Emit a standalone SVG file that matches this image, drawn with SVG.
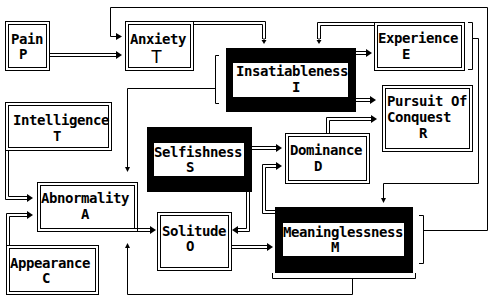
<svg xmlns="http://www.w3.org/2000/svg" width="493" height="304" viewBox="0 0 493 304">
<style>
.b{fill:none;stroke:#000;stroke-width:1}
.k{fill:#000}
.w{fill:#fff}
.l{fill:none;stroke:#000;stroke-width:1}
.t{font-family:"DejaVu Sans Mono","Liberation Mono",monospace;font-weight:bold;font-size:14px;letter-spacing:-0.43px;fill:#000}
.thin{font-family:"Liberation Sans",Arial,sans-serif;font-weight:normal;font-size:18px;fill:#000}
.a{fill:#000}
</style>
<rect width="493" height="304" fill="#fff"/>
<g id="connectors">
<!-- Pain -> Anxiety -->
<path class="l" d="M50,53.5H117M50,56.5H117"/>
<polygon class="a" points="116,51 122,55 116,59"/>
<!-- Meaninglessness loop -> Anxiety -->
<path class="l" d="M419,215.5H423.5V263.5H419M423.5,230.5H487.5V7.5H110.5V36.5H117"/>
<polygon class="a" points="116,33 122,36.5 116,40"/>
<!-- Anxiety -> Insatiableness -->
<path class="l" d="M193,21.5H265.5V39M193,24.5H262.5V39M264,38V41"/>
<polygon class="a" points="261.5,40 266.5,40 264,44"/>
<!-- Experience -> Insatiableness -->
<path class="l" d="M374,22.5H317.5V39M374,25.5H320.5V39M319,38V41"/>
<polygon class="a" points="316.5,40 321.5,40 319,44"/>
<!-- Insatiableness -> Experience -->
<path class="l" d="M355,51.5H367M355,54.5H367"/>
<polygon class="a" points="366,49 372,53 366,57"/>
<!-- Insatiableness -> Pursuit -->
<path class="l" d="M355,98.5H371M355,101.5H371"/>
<polygon class="a" points="370,96 376,100 370,104"/>
<!-- Insatiableness bracket -> Abnormality -->
<path class="l" d="M219,55.5H215.5V103.5H219M215.5,88.5H127.5V168"/>
<polygon class="a" points="125,167 130,167 127.5,172"/>
<!-- Dominance -> Pursuit -->
<path class="l" d="M326.5,133V117.5H372M329.5,133V120.5H372"/>
<polygon class="a" points="371,115 377,119 371,123"/>
<!-- Selfishness -> Dominance -->
<path class="l" d="M251,146.5H277M251,149.5H277"/>
<polygon class="a" points="276,144 282,148 276,152"/>
<!-- Meaninglessness -> Dominance -->
<path class="l" d="M275,213.5H262.5V164.5H277M275,210.5H265.5V167.5H277"/>
<polygon class="a" points="276,162 282,166 276,170"/>
<!-- Selfishness -> Solitude -->
<path class="l" d="M246.5,191V228.5H237M249.5,191V231.5H237"/>
<polygon class="a" points="238,226 232,230 238,234"/>
<!-- Solitude -> Meaninglessness -->
<path class="l" d="M231,245.5H268M231,248.5H268"/>
<polygon class="a" points="267,243 273,247 267,251"/>
<!-- Experience bracket -> Meaninglessness -->
<path class="l" d="M468,22.5H472.5V69.5H468M472.5,38.5H478.5V183.5H383.5V199"/>
<polygon class="a" points="381,198 386,198 383.5,203"/>
<!-- Meaninglessness bottom bracket -> Abnormality -->
<path class="l" d="M272.5,273V278.5H415.5V273M352.5,278.5V294.5H127.5V247"/>
<polygon class="a" points="125,248 130,248 127.5,243"/>
<!-- Intelligence -> Abnormality -->
<path class="l" d="M5.5,150V199.5H28M8.5,150V196.5H28"/>
<polygon class="a" points="27,194 33,198 27,202"/>
<!-- Appearance -> Abnormality -->
<path class="l" d="M6.5,245V213.5H28M9.5,245V216.5H28"/>
<polygon class="a" points="27,211 33,215 27,219"/>
<!-- Abnormality -> Solitude -->
<path class="l" d="M134,228.5H151M137,231.5H151"/>
<polygon class="a" points="150,226 156,230 150,234"/>
</g>
<g id="pain">
<rect class="b" x="5.5" y="21.5" width="44" height="49"/>
<rect class="b" x="8.5" y="24.5" width="38" height="43"/>
<text class="t" x="11" y="44">Pain</text>
<text class="t" x="19" y="59">P</text>
</g>
<g id="anxiety">
<rect class="b" x="125.5" y="21.5" width="68" height="49"/>
<rect class="b" x="128.5" y="24.5" width="62" height="43"/>
<text class="t" x="130" y="44">Anxiety</text>
<text class="thin" x="151" y="63">T</text>
</g>
<g id="insatiableness">
<rect class="k" x="226" y="48" width="130" height="64"/>
<rect class="w" x="233" y="63" width="115" height="34"/>
<text class="t" x="236" y="76">Insatiableness</text>
<text class="t" x="292" y="92">I</text>
</g>
<g id="experience">
<rect class="b" x="374.5" y="22.5" width="90" height="48"/>
<rect class="b" x="377.5" y="25.5" width="84" height="42"/>
<text class="t" x="378" y="43">Experience</text>
<text class="t" x="402" y="59">E</text>
</g>
<g id="pursuit">
<rect class="b" x="382.5" y="85.5" width="90" height="66"/>
<rect class="b" x="385.5" y="88.5" width="84" height="60"/>
<text class="t" x="387" y="106">Pursuit Of</text>
<text class="t" x="387" y="122">Conquest</text>
<text class="t" x="419" y="138">R</text>
</g>
<g id="intelligence">
<rect class="b" x="5.5" y="102.5" width="106" height="48"/>
<rect class="b" x="8.5" y="105.5" width="100" height="42"/>
<text class="t" x="13" y="125">Intelligence</text>
<text class="t" x="53" y="141">T</text>
</g>
<g id="selfishness">
<rect class="k" x="147" y="127" width="105" height="65"/>
<rect class="w" x="154" y="143" width="90" height="33"/>
<text class="t" x="154" y="157">Selfishness</text>
<text class="t" x="186" y="172">S</text>
</g>
<g id="dominance">
<rect class="b" x="285.5" y="133.5" width="84" height="50"/>
<rect class="b" x="288.5" y="136.5" width="78" height="44"/>
<text class="t" x="290" y="155">Dominance</text>
<text class="t" x="314" y="171">D</text>
</g>
<g id="abnormality">
<rect class="b" x="37.5" y="182.5" width="100" height="49"/>
<rect class="b" x="40.5" y="185.5" width="94" height="43"/>
<text class="t" x="41" y="203">Abnormality</text>
<text class="t" x="81" y="219">A</text>
</g>
<g id="solitude">
<rect class="b" x="157.5" y="212.5" width="74" height="58"/>
<rect class="b" x="160.5" y="215.5" width="68" height="52"/>
<text class="t" x="162" y="236">Solitude</text>
<text class="t" x="186" y="251">O</text>
</g>
<g id="appearance">
<rect class="b" x="6.5" y="245.5" width="92" height="49"/>
<rect class="b" x="9.5" y="248.5" width="86" height="43"/>
<text class="t" x="10" y="268">Appearance</text>
<text class="t" x="42" y="283">C</text>
</g>
<g id="meaninglessness">
<rect class="k" x="275" y="207" width="138" height="66"/>
<rect class="w" x="283" y="223" width="121" height="33"/>
<text class="t" x="283" y="237">Meaninglessness</text>
<text class="t" x="331" y="252">M</text>
</g>
</svg>
